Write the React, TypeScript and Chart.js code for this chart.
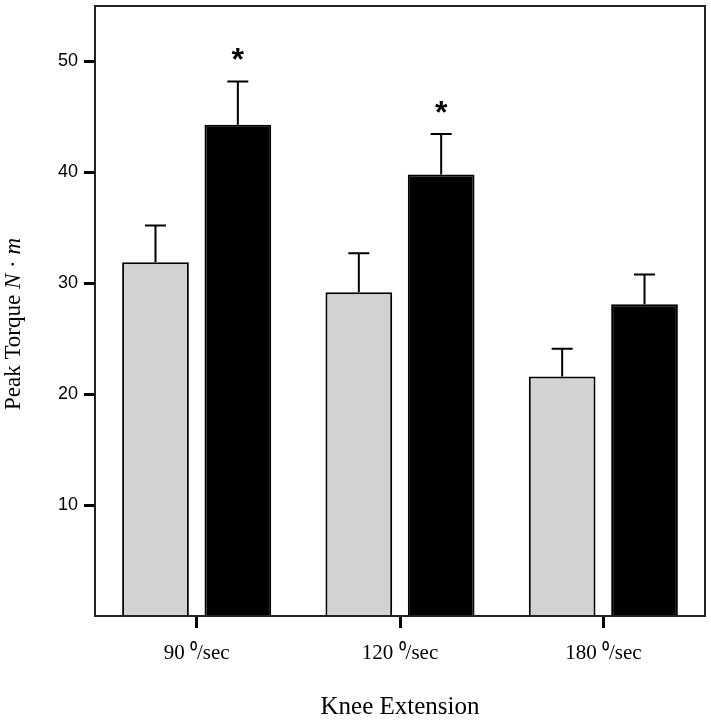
import React, { useEffect, useRef } from "react";
import { Chart, registerables } from "chart.js";

Chart.register(...registerables);

const categories = ["90 \u2070/sec", "120 \u2070/sec", "180 \u2070/sec"];
const grayValues = [31.9, 29.2, 21.6];
const grayErrors = [3.3, 3.5, 2.5];
const blackValues = [44.3, 39.8, 28.1];
const blackErrors = [3.9, 3.65, 2.7];
const blackSignificant = [true, true, false];
const yTicks = [10, 20, 30, 40, 50];
const yMin = 0;
const yMax = 55;
const xTitle = "Knee Extension";
const yTitleParts = [
  { text: "Peak Torque ", italic: false },
  { text: "N", italic: true },
  { text: " \u00b7 ", italic: false },
  { text: "m", italic: true },
];

const errorBarPlugin = {
  id: "errorBars",
  afterDatasetsDraw(chart: any) {
    const ctx = chart.ctx;
    const yScale = chart.scales.y;
    chart.data.datasets.forEach((ds: any, di: number) => {
      const meta = chart.getDatasetMeta(di);
      meta.data.forEach((bar: any, i: number) => {
        const v = ds.data[i];
        const e = ds.errors[i];
        const x = bar.x;
        const yTop = yScale.getPixelForValue(v);
        const yCap = yScale.getPixelForValue(v + e);
        ctx.save();
        ctx.strokeStyle = "#000";
        ctx.lineWidth = 2;
        ctx.beginPath();
        ctx.moveTo(x, yTop);
        ctx.lineTo(x, yCap);
        ctx.moveTo(x - 10.5, yCap);
        ctx.lineTo(x + 10.5, yCap);
        ctx.stroke();
        if (ds.significant && ds.significant[i]) {
          ctx.fillStyle = "#000";
          ctx.font = "bold 32px 'Liberation Sans', Arial, sans-serif";
          ctx.textAlign = "center";
          ctx.textBaseline = "alphabetic";
          ctx.fillText("*", x, yCap - 11);
        }
        ctx.restore();
      });
    });
  },
};

const framePlugin = {
  id: "frameAndTitles",
  afterDraw(chart: any) {
    const ctx = chart.ctx;
    const a = chart.chartArea;
    ctx.save();
    ctx.strokeStyle = "#222";
    ctx.lineWidth = 2;
    ctx.strokeRect(a.left, a.top, a.right - a.left, a.bottom - a.top);

    // x title
    ctx.fillStyle = "#000";
    ctx.font = "25px 'Liberation Serif', 'Times New Roman', serif";
    ctx.textAlign = "center";
    ctx.textBaseline = "middle";
    ctx.fillText(xTitle, (a.left + a.right) / 2, 707);

    // y title
    ctx.translate(14, 324);
    ctx.rotate(-Math.PI / 2);
    const fontFor = (it: boolean) =>
      (it ? "italic " : "") + "23px 'Liberation Serif', 'Times New Roman', serif";
    let total = 0;
    yTitleParts.forEach((p) => {
      ctx.font = fontFor(p.italic);
      total += ctx.measureText(p.text).width;
    });
    let x = -total / 2;
    ctx.textAlign = "left";
    yTitleParts.forEach((p) => {
      ctx.font = fontFor(p.italic);
      ctx.fillText(p.text, x, 0);
      x += ctx.measureText(p.text).width;
    });
    ctx.restore();
  },
};

export default function App() {
  const ref = useRef<HTMLCanvasElement>(null);
  useEffect(() => {
    document.body.style.margin = "0";
    const chart = new Chart(ref.current as HTMLCanvasElement, {
      type: "bar",
      data: {
        labels: categories,
        datasets: [
          {
            label: "Group 1",
            data: grayValues,
            errors: grayErrors,
            backgroundColor: "#d2d2d2",
            borderColor: "#000",
            borderWidth: 2,
            categoryPercentage: 0.81,
            barPercentage: 0.81,
          } as any,
          {
            label: "Group 2",
            data: blackValues,
            errors: blackErrors,
            significant: blackSignificant,
            backgroundColor: "#000",
            borderColor: "#000",
            borderWidth: 2,
            categoryPercentage: 0.81,
            barPercentage: 0.81,
          } as any,
        ],
      },
      options: {
        animation: false,
        responsive: false,
        maintainAspectRatio: false,
        layout: { padding: { left: 0, top: 6, right: 6, bottom: 0 } },
        plugins: {
          legend: { display: false },
          tooltip: { enabled: false },
        },
        scales: {
          x: {
            grid: {
              display: true,
              drawOnChartArea: false,
              drawTicks: true,
              tickLength: 12,
              tickWidth: 3,
              tickColor: "#000",
              offset: false,
            },
            border: { display: false },
            ticks: {
              color: "#000",
              padding: 13,
              font: { family: "'Liberation Serif', 'Times New Roman', serif", size: 21 },
              maxRotation: 0,
            },
            afterFit(scale: any) {
              scale.height = 106;
              scale.paddingLeft = 0;
              scale.paddingRight = 0;
            },
          },
          y: {
            min: yMin,
            max: yMax,
            grid: {
              display: true,
              drawOnChartArea: false,
              drawTicks: true,
              tickLength: 11,
              tickWidth: 3,
              tickColor: "#000",
            },
            border: { display: false },
            ticks: {
              color: "#000",
              padding: 6,
              font: { family: "'Liberation Sans', Arial, sans-serif", size: 18 },
            },
            afterBuildTicks(scale: any) {
              scale.ticks = yTicks.map((v) => ({ value: v }));
            },
            afterFit(scale: any) {
              scale.width = 95;
              scale.paddingTop = 0;
              scale.paddingBottom = 0;
            },
          },
        },
      },
      plugins: [errorBarPlugin, framePlugin],
    } as any);
    return () => chart.destroy();
  }, []);
  return <canvas ref={ref} width={711} height={722} style={{ display: "block" }} />;
}
